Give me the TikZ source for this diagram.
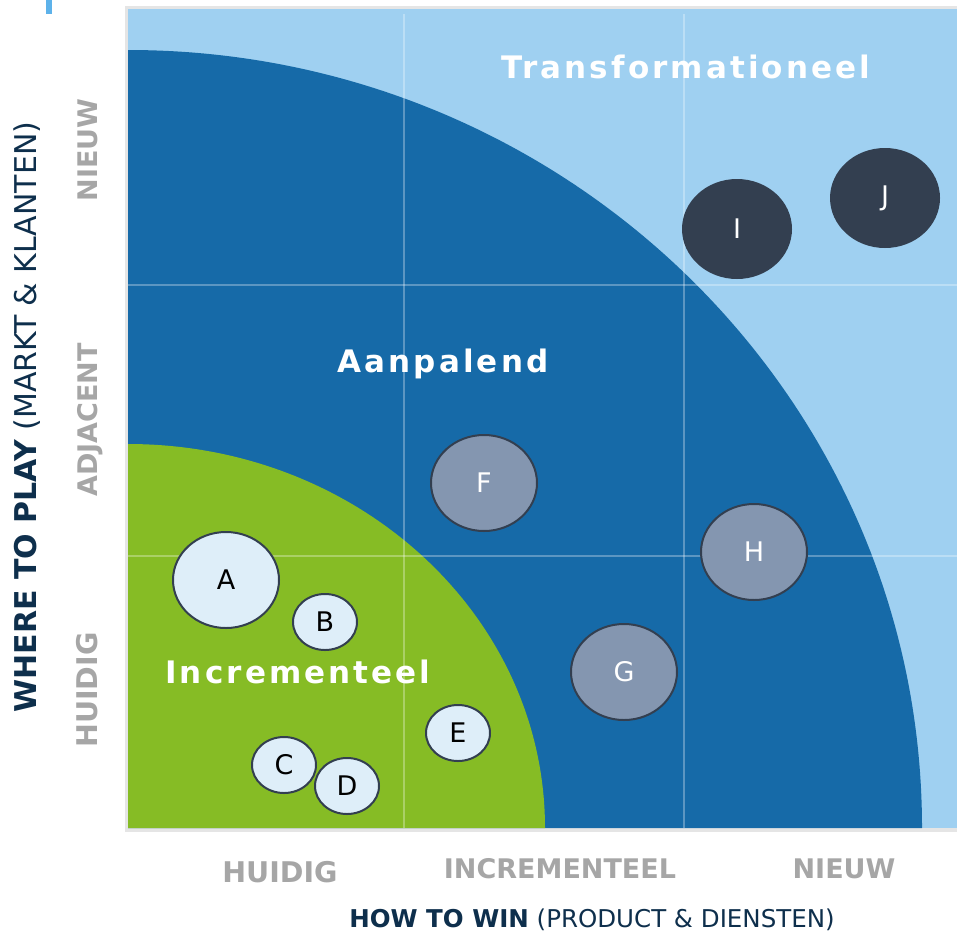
\documentclass[tikz,border=0pt]{standalone}
\usepackage{fontspec}
\setmainfont{DejaVu Sans}
\newfontfamily\spacedfont[LetterSpace=10]{DejaVu Sans}
\usetikzlibrary{shapes.geometric}
\definecolor{lightsky}{HTML}{9FD0F1}
\definecolor{deepblue}{HTML}{166AA8}
\definecolor{leafgreen}{HTML}{86BC25}
\definecolor{bubblelight}{HTML}{DEEEF9}
\definecolor{bubblegrey}{HTML}{8496B0}
\definecolor{slate}{HTML}{333F50}
\definecolor{axisgrey}{HTML}{A6A6A6}
\definecolor{navy}{HTML}{0E2F4C}
\definecolor{markblue}{HTML}{5DB2EA}
\begin{document}
\begin{tikzpicture}[x=1pt,y=-1pt,
        zone/.style={anchor=base,text=white,font=\fontsize{31}{31}\selectfont\spacedfont\bfseries},
        small/.style={ellipse,draw=slate,line width=2pt,fill=bubblelight,minimum width=64pt,minimum height=56pt,inner sep=0pt,font=\fontsize{27}{27}\selectfont},
        big/.style={small,minimum width=106pt,minimum height=96pt},
        mid/.style={big,fill=bubblegrey,text=white},
        far/.style={big,draw=none,fill=slate,text=white,minimum width=110pt,minimum height=100pt},
        level/.style={anchor=base,text=axisgrey,font=\fontsize{27}{27}\selectfont\bfseries},
        axis/.style={anchor=base,text=navy,font=\fontsize{24.5}{24.5}\selectfont},
        grid/.style={white,opacity=0.3,line width=2pt}]
    \useasboundingbox (0,0) rectangle (957,932);
    \fill[markblue] (46,0) rectangle (52,14);
    \fill[gray!20] (125,6) rectangle (957,832);
    \fill[lightsky] (128,9) rectangle (957,828);
    \fill[deepblue] (128,828) -- (128,50) arc[start angle=90,end angle=0,x radius=794pt,y radius=778pt] -- cycle;
    \fill[leafgreen] (128,828) -- (128,444) arc[start angle=90,end angle=0,x radius=417pt,y radius=384pt] -- cycle;
    \coordinate (v1top) at (404,14);
    \coordinate (v1bot) at (404,828);
    \coordinate (v2top) at (684,14);
    \coordinate (v2bot) at (684,828);
    \coordinate (h1left) at (128,285);
    \coordinate (h1right) at (957,285);
    \coordinate (h2left) at (128,556);
    \coordinate (h2right) at (957,556);
    \draw[grid] (v1top) -- (v1bot);
    \draw[grid] (v2top) -- (v2bot);
    \draw[grid] (h1left) -- (h1right);
    \draw[grid] (h2left) -- (h2right);
    \node[zone] (trans) at (686,78) {Transformationeel};
    \node[zone] (aanp) at (443,372) {Aanpalend};
    \node[zone] (incr) at (298,683) {Incrementeel};
    \node[big] (A) at (226,580) {A};
    \node[small] (B) at (325,622) {B};
    \node[small] (C) at (284,765) {C};
    \node[small] (D) at (347,786) {D};
    \node[small] (E) at (458,733) {E};
    \node[mid] (F) at (484,483) {F};
    \node[mid] (G) at (624,672) {G};
    \node[mid] (H) at (754,552) {H};
    \node[far] (I) at (737,229) {I};
    \node[far] (J) at (885,198) {J};
    \node[level,font=\fontsize{28.5}{28.5}\selectfont\bfseries] (xlow) at (280,882) {HUIDIG};
    \node[level] (xmid) at (560,878) {INCREMENTEEL};
    \node[level] (xhigh) at (844,878) {NIEUW};
    \node[level,rotate=90,font=\fontsize{28.5}{28.5}\selectfont\bfseries] (ylow) at (97,690) {HUIDIG};
    \node[level,rotate=90] (ymid) at (97,420) {ADJACENT};
    \node[level,rotate=90] (yhigh) at (97,150) {NIEUW};
    \node[axis] (xtitle) at (592,927) {\textbf{HOW TO WIN} (PRODUCT \& DIENSTEN)};
    \node[axis,rotate=90,font=\fontsize{30}{30}\selectfont] (ytitle) at (36,417) {\textbf{WHERE TO PLAY} (MARKT \& KLANTEN)};
\end{tikzpicture}
\end{document}
